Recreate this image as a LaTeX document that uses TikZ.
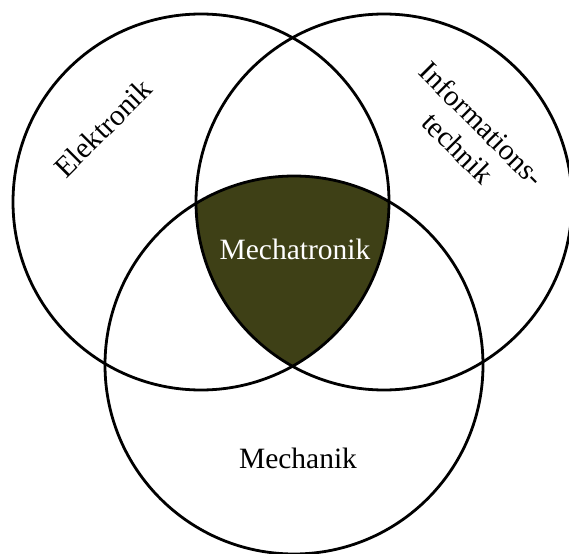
\documentclass[tikz,border=0pt]{standalone}
\usepackage{fontspec}
\setmainfont{Liberation Serif}
\definecolor{olive}{RGB}{62,64,22}
\begin{document}
\begin{tikzpicture}[x=1pt,y=-1pt,
  ring/.style={draw=black,line width=2.8pt},
  lbl/.style={font=\fontsize{29.5}{34}\selectfont,inner sep=0pt,align=center}]
\useasboundingbox (0,0) rectangle (569,553);
\clip (0,0) rectangle (569,553);
% centres of the three sets
\coordinate (E) at (201,202);
\coordinate (I) at (384,202);
\coordinate (M) at (294,365);
% common part of all three sets
\begin{scope}
  \clip (E) circle[radius=188];
  \clip (I) circle[radius=188];
  \fill[olive] (M) circle[radius=189];
\end{scope}
\draw[ring] (E) circle[radius=188];
\draw[ring] (I) circle[radius=188];
\draw[ring] (M) circle[radius=189];
% labels
\node[lbl,rotate=45] (elek) at (103,128) {Elektronik};
\node[lbl,rotate=-45] (info) at (470,136) {Informations-\\technik};
\node[lbl,text=white] (mecha) at (295,249) {Mechatronik};
\node[lbl] (mech) at (298,458) {Mechanik};
\end{tikzpicture}
\end{document}
